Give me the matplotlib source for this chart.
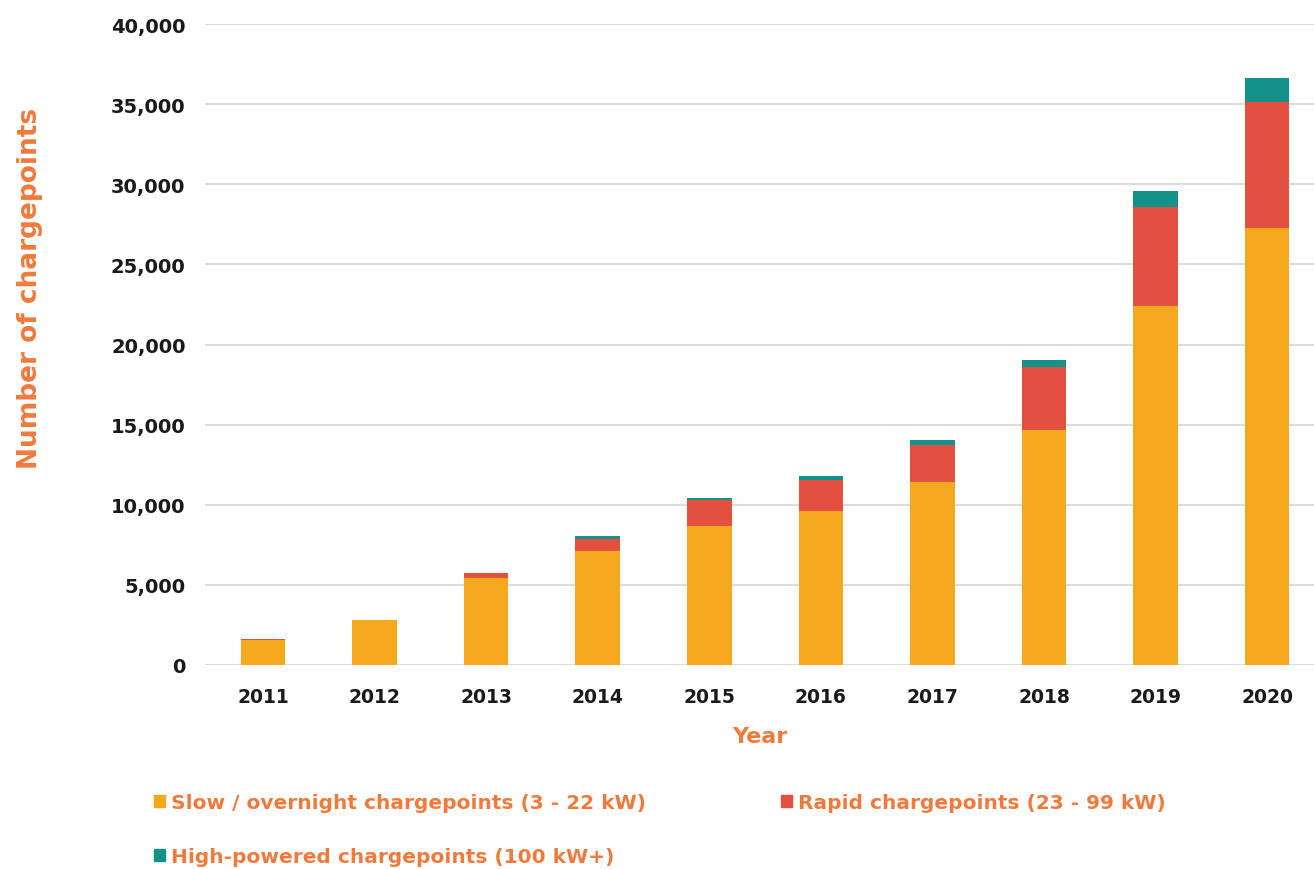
import numpy as np
import matplotlib.pyplot as plt
from matplotlib.patches import Patch

# chargepoint counts by year
years = ['2011', '2012', '2013', '2014', '2015', '2016', '2017', '2018', '2019', '2020']
slow = [1550, 2800, 5440, 7100, 8680, 9600, 11450, 14680, 22430, 27270]
rapid = [50, 30, 290, 770, 1610, 1930, 2300, 3920, 6150, 7880]
high = [0, 0, 0, 170, 120, 250, 300, 450, 970, 1460]

c_slow = '#F6A81C'
c_rapid = '#E4503F'
c_high = '#14918A'
c_text = '#F07A3C'

plt.rcParams['font.family'] = ['DejaVu Sans']

fig = plt.figure(figsize=(13.14, 8.7), dpi=100)
ax = fig.add_axes([205 / 1314, 1 - 666 / 870, 1 - 205 / 1314, (666 - 25) / 870])

x = np.arange(len(years))
w = 0.4
slow_a = np.array(slow)
rapid_a = np.array(rapid)
high_a = np.array(high)
ax.bar(x, slow_a, w, color=c_slow, zorder=3)
ax.bar(x, rapid_a, w, bottom=slow_a, color=c_rapid, zorder=3)
ax.bar(x, high_a, w, bottom=slow_a + rapid_a, color=c_high, zorder=3)

ax.set_ylim(0, 40000)
ax.set_xlim(-0.52, 9.42)
ax.set_yticks(range(0, 40001, 5000))
ax.set_yticklabels([f'{v:,}' for v in range(0, 40001, 5000)])
ax.set_xticks(x)
ax.set_xticklabels(years)
ax.yaxis.grid(True, color='#dcdcdc', linewidth=1.5, zorder=0)
ax.set_axisbelow(True)
for s in ax.spines.values():
    s.set_visible(False)
ax.tick_params(axis='both', length=0, labelsize=13.5, colors='#1a1a1a')
ax.tick_params(axis='y', labelsize=14, pad=14)
ax.tick_params(axis='x', pad=16)
for lbl in ax.get_xticklabels() + ax.get_yticklabels():
    lbl.set_fontweight('bold')

ax.set_xlabel('Year', fontsize=16, fontweight='bold', color=c_text, labelpad=14)
fig.text(30 / 1314, 1 - 288 / 870, 'Number of chargepoints', rotation=90,
         fontsize=19, fontweight='bold', color=c_text, ha='center', va='center')

handles = [Patch(color=c_slow), Patch(color=c_high), Patch(color=c_rapid)]
labels = ['Slow / overnight chargepoints (3 - 22 kW)',
          'High-powered chargepoints (100 kW+)',
          'Rapid chargepoints (23 - 99 kW)']
leg = fig.legend(handles, labels, ncol=2, loc='upper left',
                 bbox_to_anchor=(136 / 1314, 1 - 776 / 870), frameon=False,
                 handlelength=0.55, handleheight=0.55, handletextpad=0.3,
                 columnspacing=6.7, labelspacing=1.75,
                 labelcolor=c_text, prop={'weight': 'bold', 'size': 14.5})

fig.savefig('out.png', dpi=100, facecolor='white')
